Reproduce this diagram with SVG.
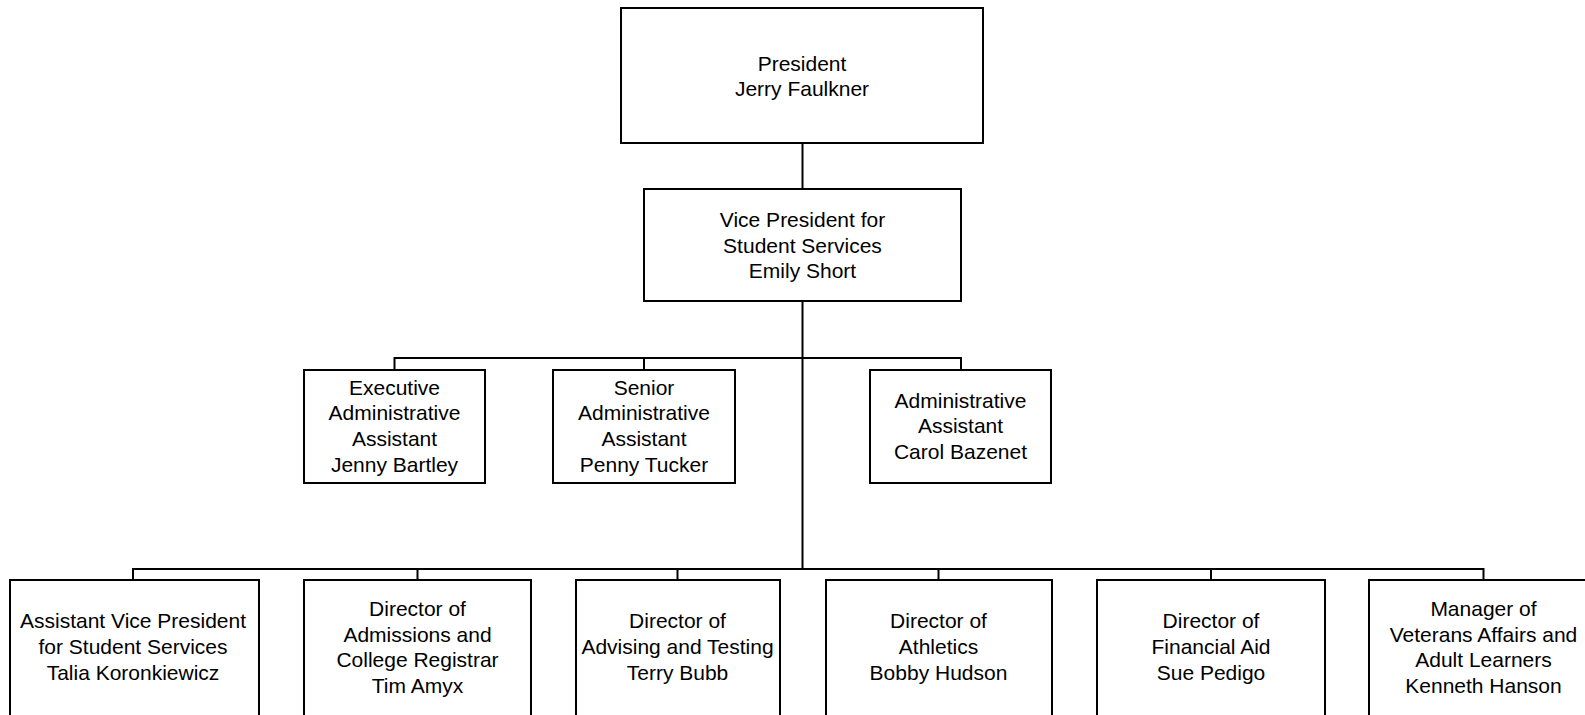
<svg xmlns="http://www.w3.org/2000/svg" width="1585" height="715" viewBox="0 0 1585 715">
<style>
rect.box{fill:#fff;stroke:#000;stroke-width:2}
.conn line{stroke:#000;stroke-width:2;fill:none}
text{font-family:"Liberation Sans",Arial,sans-serif;font-size:21px;fill:#000;text-anchor:middle}
</style>
<rect x="0" y="0" width="1585" height="715" fill="#fff"/>
<g id="connectors" class="conn">
<line x1="802.5" y1="143" x2="802.5" y2="189"/>
<line x1="802.5" y1="301" x2="802.5" y2="569"/>
<line x1="394.5" y1="358" x2="961" y2="358"/>
<line x1="394.5" y1="357" x2="394.5" y2="370"/>
<line x1="644" y1="357" x2="644" y2="370"/>
<line x1="961" y1="357" x2="961" y2="370"/>
<line x1="133" y1="569" x2="1483.5" y2="569"/>
<line x1="133" y1="568" x2="133" y2="580"/>
<line x1="417.5" y1="568" x2="417.5" y2="580"/>
<line x1="677.5" y1="568" x2="677.5" y2="580"/>
<line x1="938.5" y1="568" x2="938.5" y2="580"/>
<line x1="1211" y1="568" x2="1211" y2="580"/>
<line x1="1483.5" y1="568" x2="1483.5" y2="580"/>
</g>
<g id="president"><rect class="box" x="621" y="8" width="362" height="135"/>
<text x="802" y="70.5">President</text><text x="802" y="96">Jerry Faulkner</text></g>
<g id="vp"><rect class="box" x="644" y="189" width="317" height="112"/>
<text x="802.5" y="227">Vice President for</text><text x="802.5" y="252.5">Student Services</text><text x="802.5" y="278">Emily Short</text></g>
<g id="exec-admin"><rect class="box" x="304" y="370" width="181" height="113"/>
<text x="394.5" y="394.5">Executive</text><text x="394.5" y="420">Administrative</text><text x="394.5" y="446">Assistant</text><text x="394.5" y="472">Jenny Bartley</text></g>
<g id="senior-admin"><rect class="box" x="553" y="370" width="182" height="113"/>
<text x="644" y="394.5">Senior</text><text x="644" y="420">Administrative</text><text x="644" y="446">Assistant</text><text x="644" y="472">Penny Tucker</text></g>
<g id="admin-asst"><rect class="box" x="870" y="370" width="181" height="113"/>
<text x="960.5" y="407.5">Administrative</text><text x="960.5" y="433">Assistant</text><text x="960.5" y="459">Carol Bazenet</text></g>
<g id="avp"><rect class="box" x="10" y="580" width="249" height="160"/>
<text x="133" y="628">Assistant Vice President</text><text x="133" y="654">for Student Services</text><text x="133" y="680">Talia Koronkiewicz</text></g>
<g id="admissions"><rect class="box" x="304" y="580" width="227" height="160"/>
<text x="417.5" y="616">Director of</text><text x="417.5" y="641.5">Admissions and</text><text x="417.5" y="667">College Registrar</text><text x="417.5" y="692.5">Tim Amyx</text></g>
<g id="advising"><rect class="box" x="576" y="580" width="204" height="160"/>
<text x="677.5" y="628">Director of</text><text x="677.5" y="654">Advising and Testing</text><text x="677.5" y="680">Terry Bubb</text></g>
<g id="athletics"><rect class="box" x="826" y="580" width="226" height="160"/>
<text x="938.5" y="628">Director of</text><text x="938.5" y="654">Athletics</text><text x="938.5" y="680">Bobby Hudson</text></g>
<g id="financial-aid"><rect class="box" x="1097" y="580" width="228" height="160"/>
<text x="1211" y="628">Director of</text><text x="1211" y="654">Financial Aid</text><text x="1211" y="680">Sue Pedigo</text></g>
<g id="veterans"><rect class="box" x="1369" y="580" width="229" height="160"/>
<text x="1483.5" y="616">Manager of</text><text x="1483.5" y="641.5">Veterans Affairs and</text><text x="1483.5" y="667">Adult Learners</text><text x="1483.5" y="692.5">Kenneth Hanson</text></g>
</svg>
